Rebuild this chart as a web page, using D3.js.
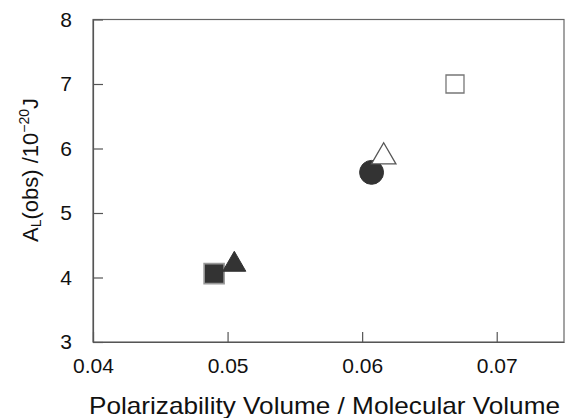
<!DOCTYPE html>
<html><head><meta charset="utf-8">
<script src="https://cdn.jsdelivr.net/npm/d3@7"></script>
<style>body{margin:0;background:#fff}svg{display:block}text{font-family:"Liberation Sans",Arial,sans-serif;fill:#111}</style>
</head><body><svg id="c" width="565" height="418"></svg>
<script>
const xValues = [0.0490, 0.0505, 0.0607, 0.0616, 0.0669];
const yValues = [4.06, 4.20, 5.63, 5.87, 7.00];
const shapes = ["square", "triangle", "circle", "triangle", "square"];
const filled = [true, true, true, false, false];
const xTicks = [0.04, 0.05, 0.06, 0.07];
const yTicks = [3, 4, 5, 6, 7, 8];

const svg = d3.select("#c");
const L = 93, R = 564, T = 19.5, B = 342;
const x = d3.scaleLinear().domain([0.04, 0.075]).range([L, R]);
const y = d3.scaleLinear().domain([3, 8]).range([B, T]);

// frame
svg.append("rect").attr("x", L).attr("y", T).attr("width", R - L).attr("height", B - T)
  .attr("fill", "none").attr("stroke", "#666").attr("stroke-width", 1.2);

const xa = svg.append("g").attr("transform", `translate(0,${B})`)
  .call(d3.axisBottom(x).tickValues(xTicks).tickFormat(d3.format(".2f")).tickSizeInner(-10).tickSizeOuter(0).tickPadding(16));
const ya = svg.append("g").attr("transform", `translate(${L},0)`)
  .call(d3.axisLeft(y).tickValues(yTicks).tickFormat(d3.format("d")).tickSizeInner(-10).tickSizeOuter(0).tickPadding(21));
[xa, ya].forEach(a => {
  a.select(".domain").attr("stroke", "#555").attr("stroke-width", 1.2);
  a.selectAll(".tick line").attr("stroke", "#555").attr("stroke-width", 1.2);
  a.selectAll(".tick text").attr("font-size", 21).attr("fill", "#111")
    .style("font-family", '"Liberation Sans",Arial,sans-serif');
});

// points
const sym = {square: d3.symbolSquare, triangle: d3.symbolTriangle, circle: d3.symbolCircle};
const sizes = {square: [400, 324], triangle: [230, 260], circle: [450, 450]};
xValues.forEach((xv, i) => {
  const s = shapes[i];
  const area = sizes[s][filled[i] ? 0 : 1];
  svg.append("path")
    .attr("d", d3.symbol().type(sym[s]).size(area)())
    .attr("transform", `translate(${x(xv)},${y(yValues[i])})`)
    .attr("fill", filled[i] ? "#333" : "#fff")
    .attr("stroke", filled[i] ? (s === "square" ? "#999" : "#333") : (s === "square" ? "#777" : "#555"))
    .attr("stroke-width", filled[i] ? (s === "square" ? 1.6 : 1) : 1.3);
});

// x title
svg.append("text").attr("x", 89).attr("y", 414).attr("font-size", 24)
  .attr("textLength", 471).attr("lengthAdjust", "spacingAndGlyphs")
  .text("Polarizability Volume / Molecular Volume");

// y title
const yt = svg.append("text").attr("transform", "translate(38,170) rotate(-90)")
  .attr("text-anchor", "middle").attr("font-size", 22);
yt.append("tspan").text("A");
yt.append("tspan").attr("font-size", 14).attr("dy", 3).text("L");
yt.append("tspan").attr("dy", -3).text("(obs) /10");
yt.append("tspan").attr("font-size", 14).attr("dy", -9).text("\u221220");
yt.append("tspan").attr("dy", 9).text("J");
</script></body></html>
